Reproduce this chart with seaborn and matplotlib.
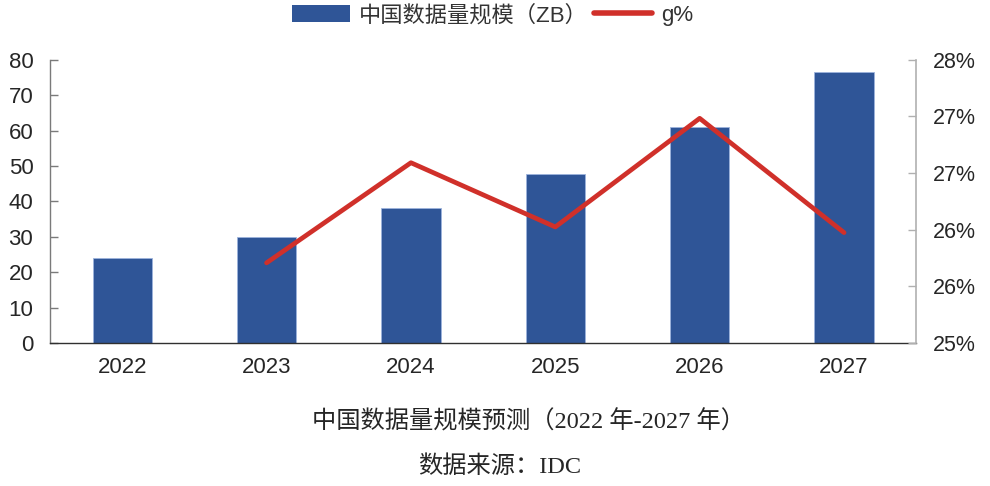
import numpy as np
import pandas as pd
import matplotlib
matplotlib.use('Agg')
import matplotlib.pyplot as plt
from matplotlib.lines import Line2D
from matplotlib.patches import Patch
import seaborn as sns

years = ['2022', '2023', '2024', '2025', '2026', '2027']
volume_zb = [24.0, 30.0, 38.1, 47.8, 60.9, 76.6]
growth_years = ['2023', '2024', '2025', '2026', '2027']
growth_pct = [25.85, 26.91, 26.23, 27.38, 26.17]

BAR_COLOR = '#2F5597'
LINE_COLOR = '#D0302A'

sns.set_theme(style='white')
plt.rcParams['font.family'] = ['Liberation Sans', 'Noto Sans CJK SC', 'DejaVu Sans']

df_bar = pd.DataFrame({'year': years, 'volume': volume_zb})
df_line = pd.DataFrame({'pos': [years.index(y) for y in growth_years],
                        'growth': growth_pct})

fig = plt.figure(figsize=(9.9, 4.86), dpi=100)
ax = fig.add_axes([0.0505, 0.294, 0.875, 0.583])

sns.barplot(data=df_bar, x='year', y='volume', color=BAR_COLOR,
            saturation=1, width=0.41, edgecolor='#9db3dc', linewidth=0.6, ax=ax)
ax.set_xlim(-0.5, 5.5)
ax.set_ylim(0, 80)
ax.set_yticks(np.arange(0, 81, 10))
ax.set_xlabel('')
ax.set_ylabel('')

# growth line on the right axis
ax2 = ax.twinx()
sns.lineplot(data=df_line, x='pos', y='growth', color=LINE_COLOR,
             linewidth=3.4, ax=ax2)
ax2.set_ylim(25, 28)
rticks = np.linspace(25, 28, 6)
ax2.set_yticks(rticks)
ax2.set_yticklabels([f'{v:.0f}%' for v in rticks])
ax2.set_ylabel('')

for a in (ax, ax2):
    a.spines['top'].set_visible(False)
ax.spines['right'].set_visible(False)
ax2.spines['left'].set_visible(False)
ax2.spines['bottom'].set_visible(False)
ax.spines['left'].set_color('#7a7a7a')
ax.spines['bottom'].set_color('#303030')
ax2.spines['right'].set_color('#b0b0b0')
for s in ('left', 'bottom'):
    ax.spines[s].set_linewidth(1.0)
ax2.spines['right'].set_linewidth(1.2)

ax.tick_params(axis='y', direction='in', length=6, width=1, color='#7a7a7a',
               labelsize=16, labelcolor='#262626', pad=12, left=True)
ax.tick_params(axis='x', length=0, labelsize=16, labelcolor='#262626', pad=10)
ax2.tick_params(axis='y', direction='in', length=6, width=1, color='#b0b0b0',
                labelsize=15.5, labelcolor='#262626', pad=12, right=True)

handles = [Patch(facecolor=BAR_COLOR, edgecolor='none'),
           Line2D([0], [0], color=LINE_COLOR, linewidth=4)]
fig.legend(handles, ['中国数据量规模（ZB）', 'g%'], loc='center',
           bbox_to_anchor=(0.4975, 0.968), ncol=2, frameon=False,
           fontsize=16, handlelength=2.6, handleheight=0.8,
           columnspacing=0.3, handletextpad=0.4, labelcolor='#333333')

serif = ['Liberation Serif', 'Noto Sans CJK SC']
fig.text(0.534, 0.132, '中国数据量规模预测（2022 年-2027 年）', ha='center',
         va='center', fontsize=17.5, family=serif, color='#262626')
fig.text(0.505, 0.039, '数据来源：IDC', ha='center', va='center',
         fontsize=17.5, family=serif, color='#262626')

fig.savefig('out.png', dpi=100)
